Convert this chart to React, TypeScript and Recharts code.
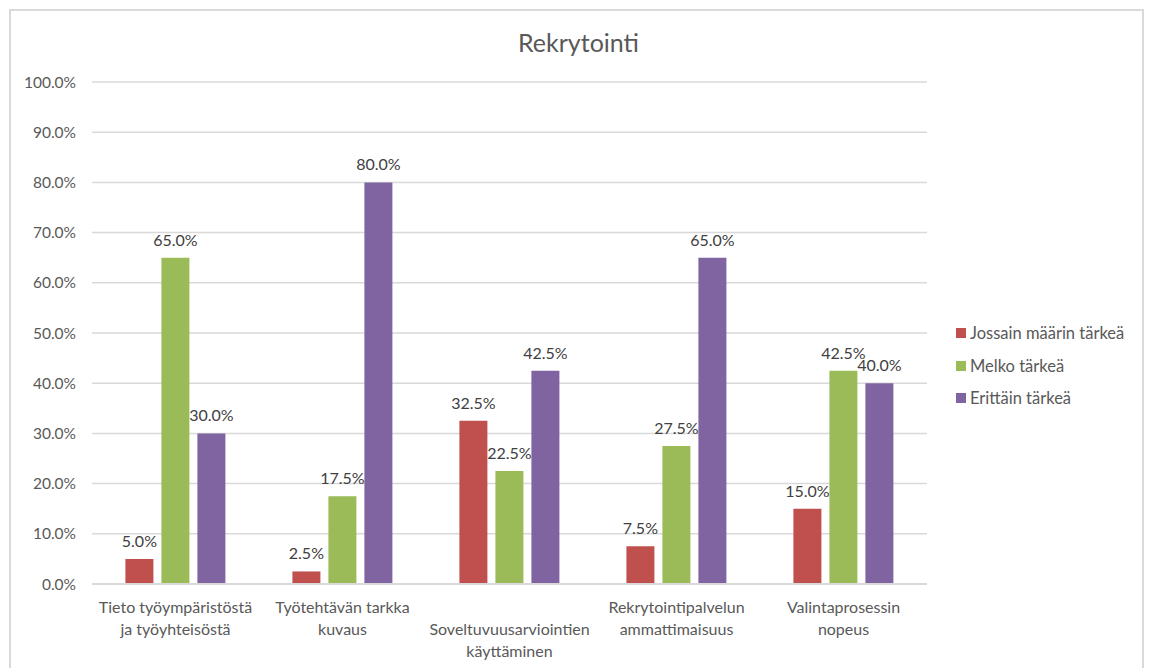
import { Bar, BarChart, CartesianGrid, LabelList, XAxis, YAxis } from 'recharts'

const categories = [
  ['Tieto työympäristöstä', 'ja työyhteisöstä'],
  ['Työtehtävän tarkka', 'kuvaus'],
  ['', 'Soveltuvuusarviointien', 'käyttäminen'],
  ['Rekrytointipalvelun', 'ammattimaisuus'],
  ['Valintaprosessin', 'nopeus'],
]
const jossain = [5.0, 2.5, 32.5, 7.5, 15.0]
const melko = [65.0, 17.5, 22.5, 27.5, 42.5]
const erittain = [30.0, 80.0, 42.5, 65.0, 40.0]
const yTicks = [0, 10, 20, 30, 40, 50, 60, 70, 80, 90, 100]

const series = [
  { key: 'jossain', name: 'Jossain määrin tärkeä', color: '#c0504d' },
  { key: 'melko', name: 'Melko tärkeä', color: '#9bbb59' },
  { key: 'erittain', name: 'Erittäin tärkeä', color: '#8064a2' },
]

const data = categories.map((lines, i) => ({
  name: lines.join(' ').trim(),
  jossain: jossain[i],
  melko: melko[i],
  erittain: erittain[i],
}))

const FONT = 'Lato, "Open Sans", sans-serif'
const TEXT = '#595959'
const GRID = '#d9d9d9'

const pct = (v: number) => `${Number(v).toFixed(1)}%`

function CategoryTick({ x, y, payload, index }: any) {
  const lines = categories[index ?? payload.index] ?? [String(payload.value)]
  return (
    <g transform={`translate(${x},${y})`}>
      {lines.map((l, i) => (
        <text key={i} x={0} y={21 + i * 22} textAnchor="middle" fill={TEXT} fontSize={16} fontFamily={FONT}>
          {l}
        </text>
      ))}
    </g>
  )
}

export default function App() {
  return (
    <div style={{ position: 'absolute', left: 0, top: 0, width: 1149, height: 668, overflow: 'hidden', background: '#fff' }}>
      <div
        style={{
          position: 'absolute',
          left: 9,
          top: 9,
          width: 1135,
          height: 720,
          border: `2px solid ${GRID}`,
          boxSizing: 'border-box',
        }}
      />
      <div
        style={{
          position: 'absolute',
          left: 0,
          width: 1157,
          top: 25,
          textAlign: 'center',
          fontFamily: FONT,
          fontSize: 25,
          lineHeight: '34px',
          color: TEXT,
        }}
      >
        Rekrytointi
      </div>
      <div style={{ position: 'absolute', left: 956, top: 317, fontFamily: FONT, fontSize: 16.5, color: TEXT }}>
        {series.map((s) => (
          <div key={s.key} style={{ display: 'flex', alignItems: 'center', height: 32.5 }}>
            <span style={{ width: 10, height: 10, background: s.color, marginRight: 4, display: 'inline-block' }} />
            {s.name}
          </div>
        ))}
      </div>
      <div style={{ position: 'absolute', left: 0, top: 0 }}>
        <BarChart
          width={1149}
          height={668}
          data={data}
          margin={{ top: 82, right: 222, bottom: 0, left: 20 }}
          barCategoryGap="20%"
          barGap={8}
        >
          <CartesianGrid vertical={false} stroke={GRID} strokeWidth={1.5} />
          <XAxis
            dataKey="name"
            axisLine={{ stroke: GRID, strokeWidth: 2 }}
            tickLine={false}
            interval={0}
            height={84}
            tick={<CategoryTick />}
          />
          <YAxis
            domain={[0, 100]}
            ticks={yTicks}
            interval={0}
            width={72}
            axisLine={false}
            tickLine={false}
            tickSize={0}
            tickMargin={16}
            tickFormatter={pct}
            tick={{ fill: TEXT, fontSize: 15.5, fontFamily: FONT }}
          />
          {series.map((s) => (
            <Bar key={s.key} dataKey={s.key} name={s.name} fill={s.color} isAnimationActive={false}>
              <LabelList
                dataKey={s.key}
                position="top"
                offset={12}
                formatter={pct}
                fill="#404040"
                fontSize={16}
                fontFamily={FONT}
              />
            </Bar>
          ))}
        </BarChart>
      </div>
    </div>
  )
}
